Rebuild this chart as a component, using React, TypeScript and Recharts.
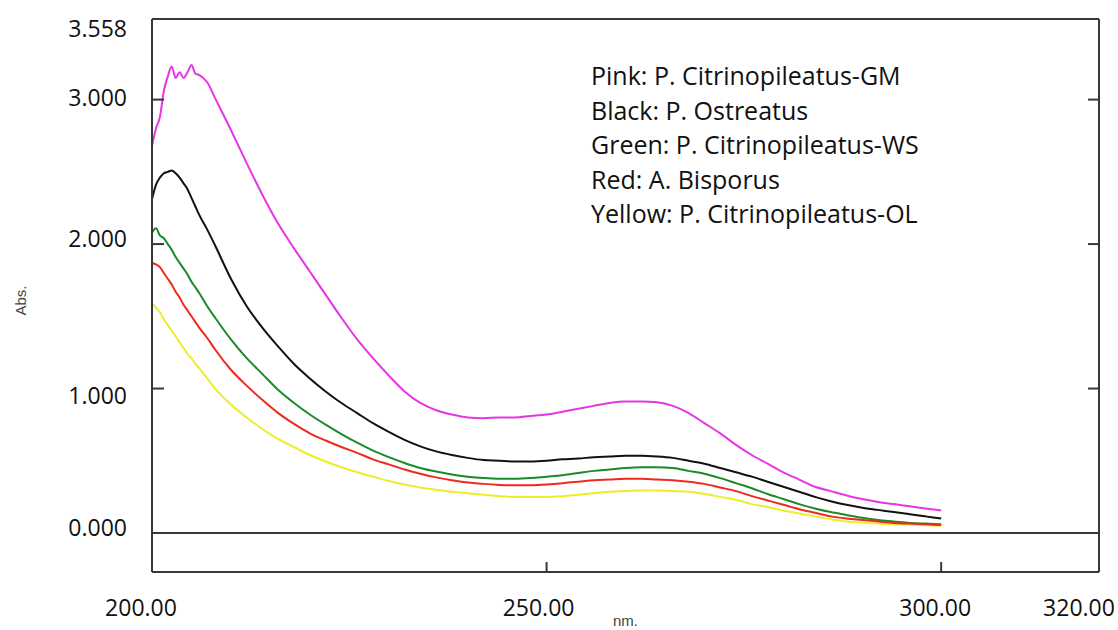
import { LineChart, Line, XAxis, YAxis, ReferenceLine } from "recharts"

// wavelength (nm) sample points, finer at the start where the peaks are
const NM = [
    200, 200.5, 201, 201.5, 202, 202.5, 203, 203.5, 204, 204.5, 205, 205.5, 206, 207, 208,
    210, 212, 214, 216, 218, 220, 222, 224, 226, 228, 230, 232, 234, 236, 238, 240,
    242, 244, 246, 248, 250, 252, 254, 256, 258, 260, 262, 264, 266, 268, 270,
    272, 274, 276, 278, 280, 282, 284, 286, 288, 290, 292, 294, 296, 298, 300,
]

const PINK = [
    2.68, 2.8, 2.88, 3.06, 3.16, 3.23, 3.15, 3.19, 3.15, 3.19, 3.24, 3.18, 3.17, 3.12, 3.01,
    2.79, 2.56, 2.34, 2.14, 1.97, 1.81, 1.65, 1.49, 1.34, 1.21, 1.09, 0.98, 0.9, 0.85, 0.82, 0.8,
    0.795, 0.8, 0.8, 0.81, 0.82, 0.84, 0.86, 0.88, 0.9, 0.91, 0.91, 0.905, 0.88, 0.83, 0.76,
    0.69, 0.61, 0.54, 0.48, 0.42, 0.37, 0.32, 0.29, 0.26, 0.235, 0.215, 0.2, 0.185, 0.17, 0.155,
]

const BLACK = [
    2.31, 2.41, 2.46, 2.49, 2.5, 2.51, 2.49, 2.46, 2.42, 2.38, 2.32, 2.26, 2.2, 2.1, 1.99,
    1.76, 1.57, 1.42, 1.29, 1.17, 1.07, 0.98, 0.9, 0.83, 0.76, 0.7, 0.645, 0.6, 0.565, 0.54, 0.52,
    0.505, 0.5, 0.495, 0.495, 0.5, 0.51, 0.515, 0.525, 0.53, 0.535, 0.535, 0.53, 0.52, 0.5, 0.48,
    0.45, 0.42, 0.39, 0.355, 0.32, 0.285, 0.25, 0.22, 0.195, 0.175, 0.16, 0.145, 0.13, 0.115, 0.1,
]

const GREEN = [
    2.08, 2.11, 2.06, 2.04, 2.0, 1.96, 1.91, 1.87, 1.83, 1.79, 1.74, 1.7, 1.66, 1.57, 1.49,
    1.34, 1.21, 1.1, 0.99, 0.9, 0.82, 0.75, 0.685, 0.625, 0.57, 0.525, 0.485, 0.45, 0.425, 0.405, 0.39,
    0.38, 0.375, 0.375, 0.38, 0.39, 0.4, 0.415, 0.43, 0.44, 0.45, 0.455, 0.455, 0.45, 0.43, 0.41,
    0.38, 0.345, 0.31, 0.27, 0.235, 0.2, 0.17, 0.145, 0.125, 0.105, 0.09, 0.08, 0.07, 0.065, 0.06,
]

const RED = [
    1.87, 1.86, 1.84, 1.8, 1.76, 1.72, 1.67, 1.63, 1.58, 1.54, 1.5, 1.46, 1.42, 1.35, 1.27,
    1.13, 1.02, 0.92, 0.83, 0.755, 0.69, 0.64, 0.595, 0.555, 0.51, 0.475, 0.44, 0.41, 0.385, 0.365, 0.35,
    0.34, 0.333, 0.33, 0.33, 0.335, 0.345, 0.355, 0.365, 0.37, 0.375, 0.375, 0.37, 0.365, 0.355, 0.34,
    0.315, 0.29, 0.255, 0.225, 0.195, 0.165, 0.14, 0.115, 0.1, 0.09, 0.08, 0.07, 0.065, 0.06, 0.055,
]

const YELLOW = [
    1.59, 1.56, 1.53, 1.48, 1.44, 1.4, 1.36, 1.32, 1.28, 1.24, 1.21, 1.17, 1.14, 1.07, 1.0,
    0.89, 0.8, 0.72, 0.65, 0.595, 0.54, 0.495, 0.455, 0.42, 0.39, 0.36, 0.335, 0.315, 0.3, 0.285, 0.275,
    0.265, 0.255, 0.25, 0.25, 0.25, 0.255, 0.265, 0.275, 0.285, 0.29, 0.295, 0.295, 0.29, 0.285, 0.27,
    0.25, 0.23, 0.2, 0.18, 0.155, 0.135, 0.115, 0.095, 0.08, 0.072, 0.066, 0.06, 0.057, 0.053, 0.05,
]

const Y_TICKS = [0, 1, 2, 3, 3.558]
const X_TICKS = [200, 250, 300, 320]

const LEGEND_LINES = [
    "Pink: P. Citrinopileatus-GM",
    "Black: P. Ostreatus",
    "Green: P. Citrinopileatus-WS",
    "Red: A. Bisporus",
    "Yellow: P. Citrinopileatus-OL",
]

const data = NM.map((nm, i) => ({
    nm,
    pink: PINK[i],
    black: BLACK[i],
    green: GREEN[i],
    red: RED[i],
    yellow: YELLOW[i],
}))

const W = 1118
const H = 630
const MARGIN = { top: 19, right: 19, left: 12, bottom: 0 }
const PLOT_RIGHT = W - MARGIN.right
const FRAME = "#383838"
const FONT = "'Open Sans', sans-serif"
const SMALL_FONT = "'Liberation Sans', Arial, sans-serif"

// the original labels sit a little off their ticks
const Y_NUDGE: Record<number, number> = { 0: -5, 1: 7, 2: -5, 3: -2, 3.558: 10 }
const X_NUDGE: Record<number, number> = { 200: -11, 250: -8, 300: -6, 320: -20 }

function YTick(props: any) {
    const { x, y, payload } = props
    const v = payload.value
    const axisX = x + 25
    const inner = v > 0 && v < 3.5
    return (
        <g>
            <text x={x} y={y + (Y_NUDGE[v] ?? 0)} dy="0.355em" textAnchor="end" fontSize={23} fill="#111" fontFamily={FONT}>
                {v.toFixed(3)}
            </text>
            {inner && <line x1={axisX} x2={axisX + 12} y1={y} y2={y} stroke={FRAME} strokeWidth={2} />}
            {inner && <line x1={PLOT_RIGHT - 11} x2={PLOT_RIGHT} y1={y} y2={y} stroke={FRAME} strokeWidth={2} />}
        </g>
    )
}

function XTick(props: any) {
    const { x, y, payload } = props
    const v = payload.value
    const axisY = y - 28
    const inner = v > 200 && v < 320
    return (
        <g>
            <text x={x + (X_NUDGE[v] ?? 0)} y={y} dy="0.71em" textAnchor="middle" fontSize={23} fill="#111" fontFamily={FONT}>
                {v.toFixed(2)}
            </text>
            {inner && <line x1={x} x2={x} y1={axisY - 10} y2={axisY} stroke={FRAME} strokeWidth={2} />}
        </g>
    )
}

function AbsLabel(props: any) {
    const vb = props.viewBox
    const cx = vb.x + 9
    const cy = vb.y + vb.height / 2 + 5
    return (
        <text x={cx} y={cy} transform={`rotate(-90 ${cx} ${cy})`} textAnchor="middle" dy="0.35em" fontSize={15} fill="#444" fontFamily={SMALL_FONT}>
            Abs.
        </text>
    )
}

function NmLabel(props: any) {
    const vb = props.viewBox
    return (
        <text x={vb.x + vb.width / 2} y={vb.y + vb.height - 4} textAnchor="middle" fontSize={15} fill="#444" fontFamily={SMALL_FONT}>
            nm.
        </text>
    )
}

export default function App() {
    return (
        <div style={{ position: "absolute", left: 0, top: 0, width: W, height: H, background: "#fff" }}>
            <LineChart width={W} height={H} data={data} margin={MARGIN}>
                <XAxis
                    dataKey="nm"
                    type="number"
                    domain={[200, 320]}
                    ticks={X_TICKS}
                    allowDataOverflow
                    height={58}
                    tickSize={0}
                    tickMargin={28}
                    tickLine={false}
                    axisLine={{ stroke: FRAME, strokeWidth: 2 }}
                    tick={<XTick />}
                    label={<NmLabel />}
                />
                <YAxis
                    type="number"
                    domain={[-0.27, 3.558]}
                    ticks={Y_TICKS}
                    allowDataOverflow
                    width={140}
                    tickSize={0}
                    tickMargin={25}
                    tickLine={false}
                    axisLine={{ stroke: FRAME, strokeWidth: 2 }}
                    tick={<YTick />}
                    label={<AbsLabel />}
                />
                <ReferenceLine y={0} stroke={FRAME} strokeWidth={2} />
                <ReferenceLine y={3.558} stroke={FRAME} strokeWidth={2} />
                <ReferenceLine x={320} stroke={FRAME} strokeWidth={2} />

                <Line type="monotone" dataKey="yellow" stroke="#eded2a" strokeWidth={2} dot={false} isAnimationActive={false} />
                <Line type="monotone" dataKey="green" stroke="#1b8a2a" strokeWidth={2} dot={false} isAnimationActive={false} />
                <Line type="monotone" dataKey="red" stroke="#f0281e" strokeWidth={2} dot={false} isAnimationActive={false} />
                <Line type="monotone" dataKey="black" stroke="#111111" strokeWidth={2} dot={false} isAnimationActive={false} />
                <Line type="monotone" dataKey="pink" stroke="#e535e5" strokeWidth={2} dot={false} isAnimationActive={false} />
            </LineChart>
            <div
                style={{
                    position: "absolute",
                    left: 591,
                    top: 58,
                    fontFamily: FONT,
                    fontSize: 25,
                    lineHeight: "34.5px",
                    color: "#111",
                    whiteSpace: "nowrap",
                }}
            >
                {LEGEND_LINES.map((t) => (
                    <div key={t}>{t}</div>
                ))}
            </div>
        </div>
    )
}
